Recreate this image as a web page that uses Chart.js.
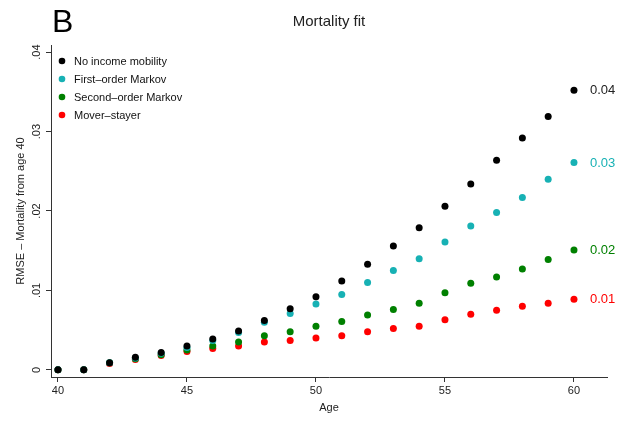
<!DOCTYPE html>
<html>
<head>
<meta charset="utf-8">
<script src="https://cdn.jsdelivr.net/npm/chart.js@4/dist/chart.umd.min.js"></script>
<style>
  html, body { margin: 0; padding: 0; background: #fff; }
  #wrap { width: 629px; height: 424px; }
</style>
</head>
<body>
<div id="wrap"><canvas id="mortalityChart" width="629" height="424"></canvas></div>
<script>
// ages on the x axis
const ages = [40, 41, 42, 43, 44, 45, 46, 47, 48, 49, 50, 51, 52, 53, 54, 55, 56, 57, 58, 59, 60];

// RMSE of each model by age
const noMobility = [0, 0, 0.0009, 0.0016, 0.0022, 0.0030, 0.0039, 0.0049, 0.0062, 0.0077, 0.0092,
  0.0112, 0.0133, 0.0156, 0.0179, 0.0206, 0.0234, 0.0264, 0.0292, 0.0319, 0.0352];
const firstOrder = [0, 0, 0.0009, 0.0015, 0.0021, 0.0028, 0.0037, 0.0047, 0.0060, 0.0071, 0.0083,
  0.0095, 0.0110, 0.0125, 0.0140, 0.0161, 0.0181, 0.0198, 0.0217, 0.0240, 0.0261];
const secondOrder = [0, 0, 0.0009, 0.0014, 0.0019, 0.0025, 0.0030, 0.0035, 0.0043, 0.0048, 0.0055,
  0.0061, 0.0069, 0.0076, 0.0084, 0.0097, 0.0109, 0.0117, 0.0127, 0.0139, 0.0151];
const moverStayer = [0, 0, 0.0008, 0.0013, 0.0018, 0.0023, 0.0027, 0.0030, 0.0035, 0.0037, 0.0040,
  0.0043, 0.0048, 0.0052, 0.0055, 0.0063, 0.0070, 0.0075, 0.0080, 0.0084, 0.0089];

const seriesNames = ['No income mobility', 'First\u2013order Markov', 'Second\u2013order Markov', 'Mover\u2013stayer'];
const seriesColors = ['#000000', '#17b1b4', '#008000', '#ff0000'];

const xTicks = [40, 45, 50, 55, 60];
const yTicks = [0, 0.01, 0.02, 0.03, 0.04];

const FONT = '"Liberation Sans", Arial, Helvetica, sans-serif';

function toPoints(values) {
  return values.map((v, i) => ({ x: ages[i], y: v }));
}

const allSeries = [noMobility, firstOrder, secondOrder, moverStayer];

// panel letter in the corner
const panelLetter = {
  id: 'panelLetter',
  afterDraw(chart) {
    const ctx = chart.ctx;
    ctx.save();
    ctx.fillStyle = '#000';
    ctx.font = '32px ' + FONT;
    ctx.textBaseline = 'alphabetic';
    ctx.textAlign = 'left';
    ctx.fillText('B', 52, 32);
    ctx.restore();
  }
};

// legend drawn inside the plot, top left
const innerLegend = {
  id: 'innerLegend',
  afterDraw(chart) {
    const ctx = chart.ctx;
    const area = chart.chartArea;
    ctx.save();
    ctx.font = '11px ' + FONT;
    ctx.textBaseline = 'middle';
    chart.data.datasets.forEach((ds, i) => {
      const y = area.top + 16 + i * 18;
      ctx.fillStyle = ds.backgroundColor;
      ctx.beginPath();
      ctx.arc(area.left + 11, y, 3.3, 0, Math.PI * 2);
      ctx.fill();
      ctx.fillStyle = '#111';
      ctx.fillText(ds.label, area.left + 23, y + 0.5);
    });
    ctx.restore();
  }
};

// value label next to the last point of each series
const endLabels = {
  id: 'endLabels',
  afterDatasetsDraw(chart) {
    const ctx = chart.ctx;
    ctx.save();
    ctx.font = '13px ' + FONT;
    ctx.textBaseline = 'middle';
    ctx.textAlign = 'left';
    chart.data.datasets.forEach((ds, i) => {
      const meta = chart.getDatasetMeta(i);
      const last = meta.data[meta.data.length - 1];
      const value = ds.data[ds.data.length - 1].y;
      ctx.fillStyle = i === 0 ? '#222' : ds.backgroundColor;
      ctx.fillText(value.toFixed(2), last.x + 16, last.y + 0.5);
    });
    ctx.restore();
  }
};

const ctx = document.getElementById('mortalityChart').getContext('2d');

const chart = new Chart(ctx, {
  type: 'scatter',
  data: {
    datasets: allSeries.map((values, i) => ({
      label: seriesNames[i],
      data: toPoints(values),
      backgroundColor: seriesColors[i],
      borderColor: seriesColors[i],
      borderWidth: 0,
      pointRadius: 3.5,
      pointHoverRadius: 3.5,
    })),
  },
  options: {
    responsive: false,
    animation: false,
    events: [],
    layout: { padding: { left: 0, right: 22, top: 0, bottom: 0 } },
    plugins: {
      legend: { display: false },
      tooltip: { enabled: false },
      title: {
        display: true,
        fullSize: false,
        text: 'Mortality fit',
        color: '#222',
        font: { family: FONT, size: 15, weight: 'normal', lineHeight: 1.2 },
        padding: { top: 13, bottom: 14 },
      },
    },
    scales: {
      x: {
        type: 'linear',
        min: 39.73,
        max: 61.28,
        afterBuildTicks: (scale) => { scale.ticks = xTicks.map(v => ({ value: v })); },
        afterFit: (scale) => { scale.height = 47; },
        border: { display: true, color: '#333', width: 1 },
        grid: { display: true, drawOnChartArea: false, drawTicks: true, tickLength: 5, color: '#333' },
        ticks: {
          color: '#222',
          padding: 2,
          maxRotation: 0,
          font: { family: FONT, size: 11 },
        },
        title: {
          display: true,
          text: 'Age',
          color: '#222',
          font: { family: FONT, size: 11 },
          padding: { top: 0, bottom: 9 },
        },
      },
      y: {
        type: 'linear',
        min: -0.0009,
        max: 0.0409,
        afterBuildTicks: (scale) => { scale.ticks = yTicks.map(v => ({ value: v })); },
        afterFit: (scale) => { scale.width = 51; },
        border: { display: true, color: '#333', width: 1 },
        grid: { display: true, drawOnChartArea: false, drawTicks: true, tickLength: 5, color: '#333' },
        ticks: {
          color: '#222',
          padding: 1,
          minRotation: 90,
          maxRotation: 90,
          crossAlign: 'center',
          font: { family: FONT, size: 11 },
          callback: (v) => v === 0 ? '0' : v.toFixed(2).replace(/^0/, ''),
        },
        title: {
          display: true,
          text: 'RMSE \u2013 Mortality from age 40',
          color: '#222',
          font: { family: FONT, size: 11 },
          padding: { top: 14, bottom: 0 },
        },
      },
    },
  },
  plugins: [panelLetter, innerLegend, endLabels],
});
</script>
</body>
</html>
